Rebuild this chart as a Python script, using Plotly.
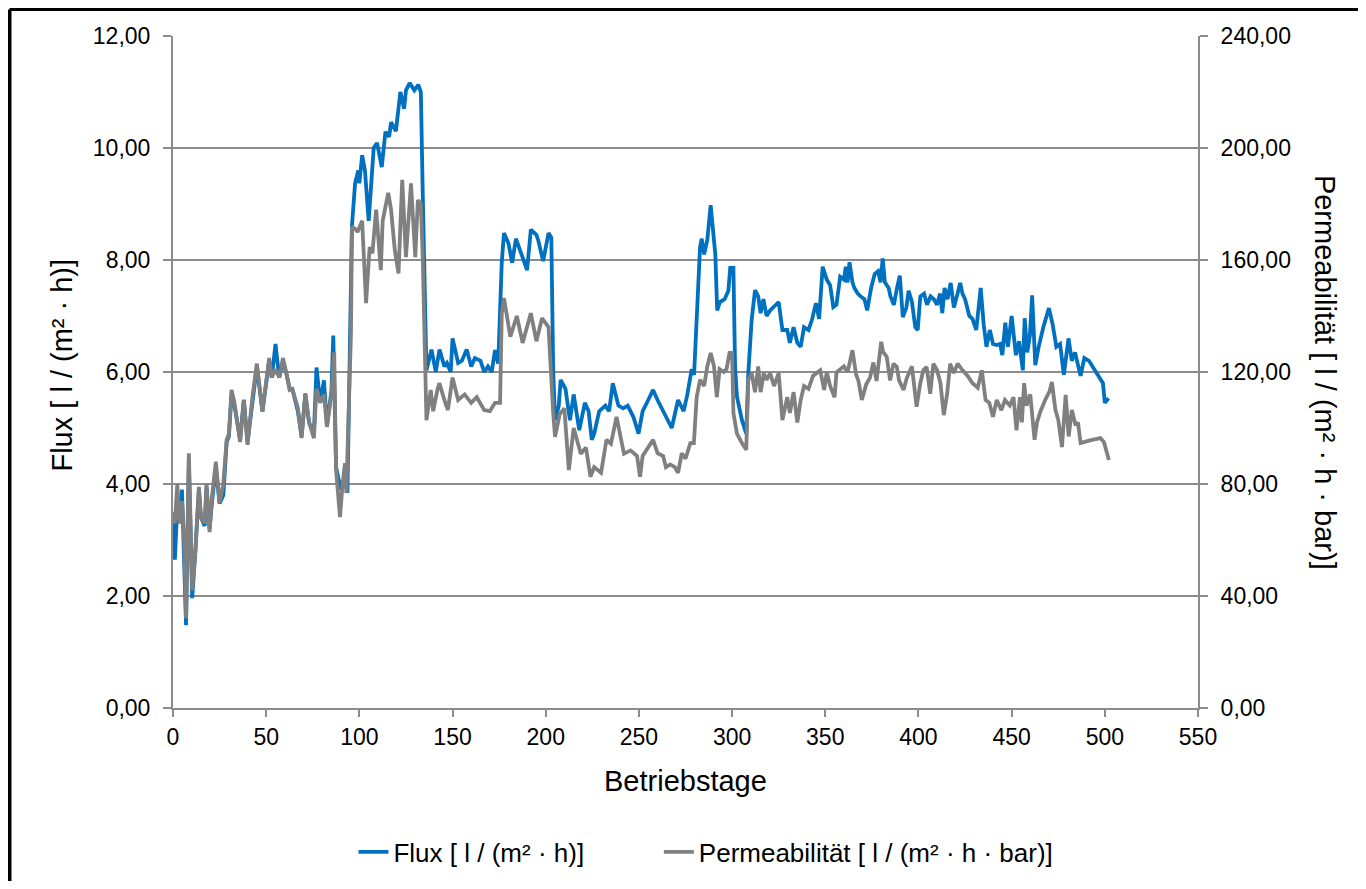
import plotly.graph_objects as go

# ---- Data (days, value) ----
flux_points = [
    (0, 3.3), (1, 2.65), (2.3, 3.6), (3.5, 3.3), (4.8, 3.9), (7, 1.48), (8.5, 4.4),
    (10.3, 1.96), (12, 2.8), (13.9, 3.9), (15, 3.4), (17, 3.25), (18, 3.95), (19.6, 3.2),
    (21, 3.7), (23, 4.3), (25, 3.65), (27, 3.8), (28.8, 4.75), (30, 4.85), (31.4, 5.6),
    (33, 5.4), (36, 4.8), (38, 5.5), (40, 4.75), (42.6, 5.5), (45, 6.1), (48, 5.3),
    (51.6, 6.2), (53, 5.9), (55, 6.5), (57, 5.9), (59, 6.2), (61, 5.95), (62.6, 5.7),
    (64, 5.7), (67, 5.3), (69, 4.85), (71, 5.6), (73, 5.1), (75.6, 4.9), (77, 6.08),
    (79, 5.45), (81, 5.85), (82.6, 5.05), (85, 5.65), (86, 6.65), (87.5, 4.3), (89, 4.1),
    (90, 3.9), (91.5, 4.0), (92.6, 4.2), (93.6, 3.84), (95, 6.6), (96, 8.6), (97.7, 9.37),
    (99.4, 9.6), (100, 9.37), (101.5, 9.87), (103, 9.6), (105, 8.7), (107.7, 10.0),
    (109.5, 10.09), (112, 9.66), (114, 10.29), (116, 10.2), (117, 10.46), (119.6, 10.3),
    (122, 11.0), (124, 10.7), (125, 11.03), (127, 11.16), (129.5, 11.03), (131.6, 11.13),
    (133, 11.0), (134, 9.2), (136, 6.03), (138.7, 6.4), (141, 6.0), (143, 6.4), (145.6, 6.1),
    (147, 6.16), (149, 6.0), (150, 6.6), (153, 6.16), (155, 6.2), (157.6, 6.4), (160, 6.1),
    (162, 6.25), (165, 6.2), (167, 6.0), (169, 6.1), (171, 6.0), (172.8, 6.39), (174.5, 6.15),
    (176.4, 7.95), (177.6, 8.48), (180, 8.3), (182, 7.95), (184, 8.38), (187.6, 8.07),
    (190, 7.82), (192, 8.54), (195, 8.45), (196, 8.35), (198.6, 7.98), (201.5, 8.48),
    (203, 8.4), (204, 6.03), (205, 5.14), (207, 5.4), (208, 5.86), (210.6, 5.7), (213, 5.14),
    (215, 5.6), (218, 4.96), (221, 5.45), (223, 5.3), (224.7, 4.79), (226, 4.9), (228.7, 5.3),
    (232, 5.4), (234, 5.3), (236, 5.8), (239, 5.4), (241.6, 5.35), (244, 5.4), (247, 5.2),
    (249.8, 4.9), (252, 5.3), (255, 5.5), (257.6, 5.68), (260, 5.5), (263, 5.3), (265, 5.2),
    (267.6, 5.0), (271, 5.5), (274, 5.3), (276, 5.6), (278.3, 6.05), (279.6, 5.95),
    (281, 7.05), (282.8, 8.23), (283.7, 8.38), (285, 8.1), (286.7, 8.36), (288.5, 8.98),
    (291, 8.1), (292, 7.1), (293.5, 7.25), (296, 7.3), (298, 7.45), (299, 7.86),
    (300.7, 7.86), (301.6, 6.09), (302.6, 5.56), (305.3, 5.14), (307.6, 4.9), (308.7, 5.98),
    (310.5, 6.93), (312.3, 7.46), (314, 7.35), (315.3, 7.05), (316.8, 7.3), (318.5, 7.0),
    (320.4, 7.1), (322, 7.15), (325, 7.25), (327, 6.75), (329.6, 6.75), (331, 6.52),
    (333, 6.8), (335, 6.52), (336.8, 6.45), (338.6, 6.8), (341, 6.75), (343, 6.95),
    (345, 7.23), (346.7, 6.95), (348.6, 7.88), (350.8, 7.65), (352.6, 7.55), (354.3, 7.16),
    (356, 7.2), (358, 7.7), (360, 7.65), (361, 7.88), (362, 7.6), (363, 7.96), (364.6, 7.6),
    (365.6, 7.5), (367.4, 7.4), (369, 7.35), (371, 7.3), (372.5, 7.1), (374.6, 7.5),
    (376.5, 7.75), (378.3, 7.8), (379.7, 7.6), (380.8, 8.03), (382, 7.6), (384, 7.5),
    (385, 7.35), (386.8, 7.2), (388.5, 7.5), (390, 7.72), (391.6, 6.98), (393.5, 7.15),
    (394.7, 7.45), (396.5, 7.25), (398.3, 6.8), (399.6, 6.75), (401, 7.35), (403, 7.4),
    (404.6, 7.2), (406.5, 7.35), (408.3, 7.3), (410, 7.2), (411.6, 7.4), (412.8, 7.05),
    (414, 7.5), (415.6, 7.3), (417.3, 7.59), (419, 7.15), (421, 7.4), (422.4, 7.59),
    (423.6, 7.4), (425, 7.3), (427.3, 7.0), (429, 6.95), (431, 6.75), (433.4, 7.5),
    (435, 6.85), (436.5, 6.45), (438.3, 6.75), (440, 6.5), (442, 6.48), (443.8, 6.5),
    (445, 6.3), (446.6, 6.88), (448, 6.45), (450, 7.0), (452.3, 6.3), (454, 6.55),
    (456, 6.03), (457, 6.96), (458.4, 6.35), (459.8, 6.65), (461, 7.37), (462.7, 6.12),
    (464.5, 6.45), (467, 6.8), (470, 7.14), (472, 6.85), (474, 6.45), (476, 6.5),
    (478, 5.95), (480.5, 6.6), (482.3, 6.2), (484, 6.35), (487, 5.93), (489, 6.25),
    (491.5, 6.2), (495, 6.0), (499, 5.8), (500, 5.45), (502, 5.53),
]

perm_points = [
    (0, 70), (1, 66), (2.3, 80), (3.5, 66), (4.8, 74), (6, 60), (7, 32), (8.5, 91),
    (10.3, 42), (12, 56), (13.9, 79), (15, 68), (17, 66), (18, 80), (19.6, 62.8), (21, 76),
    (23, 88), (25, 73.2), (27, 80), (28.8, 95.8), (30, 98), (31.4, 113.6), (33, 109),
    (36, 95), (38, 110), (40, 94), (42.6, 111), (45, 123), (48, 105.8), (51.6, 125),
    (53, 118), (55, 121), (57, 118), (59, 125), (61, 119), (62.6, 113.6), (64, 114),
    (67, 107.2), (69, 96.4), (71, 112.4), (73, 102), (75.6, 96.4), (77, 114), (79, 109),
    (81, 112), (82.6, 100.4), (85, 112), (86.5, 127), (87.5, 85), (89.6, 68.2), (91, 80),
    (92.3, 87.4), (93, 76.8), (95.5, 134), (96, 172), (98, 171), (99, 170), (101.5, 174),
    (103.6, 144.6), (105.5, 164.6), (107, 162.4), (109, 178), (111.5, 156.4), (112.5, 174),
    (115.5, 184), (117, 178), (119, 163.6), (121, 155.2), (123, 188.6), (125, 161),
    (127.7, 187.4), (130, 161), (131.4, 181.4), (133, 180), (134, 161), (136, 102.8),
    (138.3, 113.6), (139.6, 106), (142, 114), (143, 116), (145.6, 110), (147.5, 106.4),
    (150, 118), (153, 110), (156.5, 112), (160, 109), (163, 111), (164.6, 109),
    (167, 106.4), (170, 106), (172.8, 109), (175.5, 109), (176.4, 141), (177.6, 146.4),
    (181, 132.6), (184.5, 140), (187.6, 130.4), (192, 141), (195, 131), (198, 139.2),
    (201.5, 136), (204, 105.4), (205, 96.8), (207.5, 105), (210, 107), (212.4, 85),
    (215, 100), (218.8, 90.8), (221.6, 93), (224, 82.6), (226, 86), (229.7, 84),
    (232.6, 95.8), (235, 94.4), (238, 104), (242, 90.8), (245.5, 92), (249, 90),
    (250.6, 82.6), (252, 90), (255, 92.8), (257.6, 95.8), (260, 91), (263, 90),
    (264.5, 86), (266.7, 87), (269.3, 86), (271, 84), (273, 91), (275, 89), (277.6, 94.6),
    (279.5, 94.6), (281, 111), (282.8, 117.2), (285, 115), (286.7, 122), (288.5, 126.8),
    (290.3, 122), (291.8, 111), (293.3, 121), (295.5, 120), (297, 121), (298.6, 126.8),
    (300, 126.8), (300.7, 105.4), (302.6, 98), (305.3, 94.6), (307.6, 92.2), (308.7, 117.2),
    (310.5, 119.6), (312.3, 112.8), (314, 122), (315.3, 112.8), (317, 119.6), (318.5, 117.2),
    (320.4, 119.6), (322.5, 115), (325, 119.6), (327, 102.8), (329.6, 111), (331, 105.4),
    (333, 112.8), (335, 102), (336.8, 110), (338.6, 115), (341, 114), (343.4, 118.6),
    (345.5, 119.6), (347.3, 120.6), (349.4, 113.6), (350.8, 120), (352.6, 115),
    (355, 111), (356, 119.8), (358, 121), (360, 122), (362, 120), (364.6, 127.8),
    (366.5, 119.2), (367.8, 116.8), (369.6, 110), (372, 115.6), (374, 118), (375.8, 123.4),
    (377.5, 116.8), (380, 130.8), (381, 127.2), (383, 125.4), (384.8, 117), (386.6, 123),
    (388.4, 121.8), (389.6, 117), (392, 113.6), (393.8, 118), (396.5, 122), (399, 107.6),
    (401, 116), (402.6, 120.6), (404.4, 121.8), (406.3, 112.2), (408, 123), (410, 120.6),
    (411.8, 116), (413.6, 104.6), (415.4, 112.2), (417, 123), (419, 119.6), (421, 123),
    (423.7, 120.6), (426.4, 118.6), (429, 116), (431.8, 114.4), (434, 120.6), (436, 110),
    (438, 109), (440, 104), (442, 110), (444.5, 106.4), (446.4, 110), (449, 108),
    (451, 111), (452.6, 99.2), (454.5, 111), (455.5, 102), (456.7, 116), (458, 108),
    (460, 112), (462.3, 95.8), (463.6, 102), (465.5, 106), (468, 110), (470.4, 113.2),
    (471.6, 116.4), (473.5, 106.4), (475, 103), (477, 93.2), (479, 111.8), (480.6, 97),
    (482.3, 106.4), (484.3, 101), (485.6, 102), (487, 94.6), (492, 95.6), (497.6, 96.4),
    (499.5, 95), (501, 91.4), (502.2, 88.6),
]

flux_days = [p[0] for p in flux_points]
flux_values = [p[1] for p in flux_points]
perm_days = [p[0] for p in perm_points]
perm_values = [p[1] for p in perm_points]

x_ticks = list(range(0, 551, 50))
flux_ticks = [0, 2, 4, 6, 8, 10, 12]
perm_ticks = [0, 40, 80, 120, 160, 200, 240]

BLUE = "#0070C0"
GRAY = "#808080"
AXIS = "#8C8C8C"
FONT = "Liberation Sans, Arial, sans-serif"

fig = go.Figure()
fig.add_trace(go.Scatter(
    x=flux_days, y=flux_values, mode="lines", name="Flux [ l / (m² · h)]",
    line=dict(color=BLUE, width=3.8), yaxis="y", legend="legend",
))
fig.add_trace(go.Scatter(
    x=perm_days, y=perm_values, mode="lines", name="Permeabilität [ l / (m² · h · bar)]",
    line=dict(color=GRAY, width=3.8), yaxis="y2", legend="legend2",
))

leg_common = dict(orientation="h", xref="container", yref="container", yanchor="middle",
                  y=0.0332, xanchor="left", font=dict(size=26), itemwidth=30,
                  bgcolor="rgba(0,0,0,0)")

fig.update_layout(
    width=1350, height=873,
    margin=dict(l=165, r=160, t=28, b=173),
    paper_bgcolor="white", plot_bgcolor="white",
    separators=",.",
    font=dict(family=FONT, size=23, color="black"),
    showlegend=True,
    legend=dict(x=0.2559, **leg_common),
    legend2=dict(x=0.4821, **leg_common),
    xaxis=dict(range=[0, 550], tickvals=x_ticks, showgrid=False, zeroline=False,
               showline=True, linecolor=AXIS, linewidth=2, ticks="outside",
               ticklen=7, tickcolor=AXIS, tickwidth=2, tickfont=dict(size=23)),
    yaxis=dict(range=[0, 12], tickvals=flux_ticks, tickformat=".2f", showgrid=True,
               gridcolor=AXIS, gridwidth=1.5, zeroline=False, showline=True,
               linecolor=AXIS, linewidth=2, ticks="outside", ticklen=8, tickcolor=AXIS,
               tickwidth=2, tickfont=dict(size=23), ticklabelstandoff=8),
    yaxis2=dict(range=[0, 240], tickvals=perm_ticks, tickformat=".2f", overlaying="y",
                side="right", showgrid=False, zeroline=False, showline=True,
                linecolor=AXIS, linewidth=2, ticks="outside", ticklen=8, tickcolor=AXIS,
                tickwidth=2, tickfont=dict(size=23), ticklabelstandoff=8),
)

# Axis titles
fig.add_annotation(text="Betriebstage", xref="paper", yref="paper", x=0.5, y=-0.109,
                   showarrow=False, font=dict(size=29), xanchor="center", yanchor="middle")
fig.add_annotation(text="Flux [ l / (m² · h)]", xref="paper", yref="paper", x=-0.108, y=0.51,
                   showarrow=False, textangle=-90, font=dict(size=29),
                   xanchor="center", yanchor="middle")
fig.add_annotation(text="Permeabilität [ l / (m² · h · bar)]", xref="paper", yref="paper",
                   x=1.124, y=0.5, showarrow=False, textangle=90, font=dict(size=29),
                   xanchor="center", yanchor="middle")

# Outer chart border (left and top edges)
fig.add_shape(type="line", xref="paper", yref="paper", x0=-0.1595, x1=-0.1595, y0=1.0394,
              y1=-0.3, line=dict(color="black", width=4))
fig.add_shape(type="line", xref="paper", yref="paper", x0=-0.1595, x1=1.2, y0=1.0394,
              y1=1.0394, line=dict(color="black", width=3))

fig.write_html("out.html")
